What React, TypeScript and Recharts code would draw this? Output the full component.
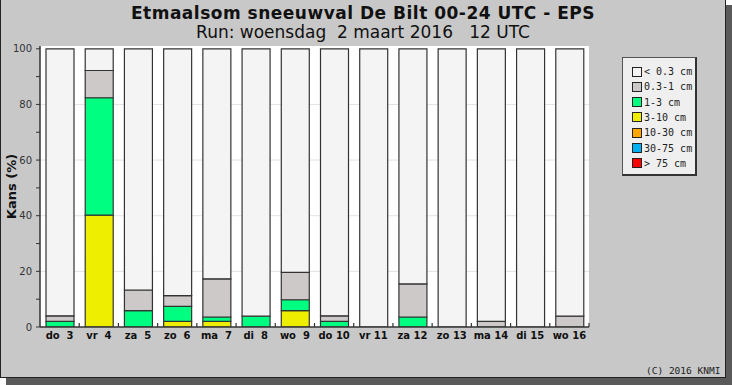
import React from 'react';
import { BarChart, Bar, XAxis, YAxis, CartesianGrid } from 'recharts';

const days = ['do  3', 'vr  4', 'za  5', 'zo  6', 'ma  7', 'di  8', 'wo  9', 'do 10', 'vr 11', 'za 12', 'zo 13', 'ma 14', 'di 15', 'wo 16'];

// kans (%) per klasse, van onder naar boven gestapeld
const snow3to10 = [0, 40.2, 0, 2, 2, 0, 5.9, 0, 0, 0, 0, 0, 0, 0];
const snow1to3 = [2, 42.2, 5.9, 5.4, 1.6, 3.9, 3.9, 2, 0, 3.6, 0, 0, 0, 0];
const snow03to1 = [2, 9.8, 7.4, 3.9, 13.7, 0, 9.8, 2, 0, 11.9, 0, 2, 0, 3.9];
const snowLt03 = [96, 7.8, 86.7, 88.7, 82.7, 96.1, 80.4, 96, 100, 84.5, 100, 98, 100, 96.1];

const legendLabels = ['< 0.3 cm', '0.3-1 cm', '1-3 cm', '3-10 cm', '10-30 cm', '30-75 cm', '> 75 cm'];
const legendColors = ['#f4f4f4', '#cdc9c9', '#00ff80', '#eeee00', '#ffa500', '#00b0f0', '#ff0000'];

const yTicks = [0, 10, 20, 30, 40, 50, 60, 70, 80, 90, 100];

const data = days.map((day, i) => ({
  day,
  c3: snow3to10[i],
  c2: snow1to3[i],
  c1: snow03to1[i],
  c0: snowLt03[i],
}));

const W = 725;
const H = 377;
const M = { top: 46, right: 136, bottom: 0, left: 0 };
const Y_W = 40;
const X_H = 50;
const PLOT_BOTTOM = H - X_H;
const BAND = (W - M.right - Y_W) / days.length;

const DayTick = ({ x, payload }: any) => (
  <g>
    <line x1={x + BAND / 2} x2={x + BAND / 2} y1={PLOT_BOTTOM} y2={PLOT_BOTTOM - 4} stroke="#333" strokeWidth={1.2} />
    <text x={x} y={PLOT_BOTTOM + 12} textAnchor="middle" fontSize={10} fontWeight="bold" fill="#111"
      fontFamily="DejaVu Sans" style={{ whiteSpace: 'pre' }}>
      {payload.value}
    </text>
  </g>
);

const KansLabel = ({ viewBox }: any) => {
  const cx = viewBox.x + 11;
  const cy = viewBox.y + viewBox.height / 2;
  return (
    <text x={cx} y={cy} transform={`rotate(-90 ${cx} ${cy})`} textAnchor="middle" dominantBaseline="central"
      fontSize={13} fontWeight="bold" fill="#111" fontFamily="DejaVu Sans">
      Kans (%)
    </text>
  );
};

const SnowLegend = () => (
  <div style={{
    position: 'absolute', left: 622, top: 57, width: 72, height: 116, background: '#efefef',
    borderTop: '1px solid #555', borderLeft: '1px solid #555', borderRight: '2px solid #333', borderBottom: '2px solid #333',
  }}>
    {legendLabels.map((lab, i) => (
      <div key={lab} style={{ position: 'absolute', left: 9, top: 8 + i * 15.3, height: 11, display: 'flex', alignItems: 'center' }}>
        <span style={{ width: 8, height: 8, background: legendColors[i], border: '1px solid #222', display: 'inline-block' }} />
        <span style={{ marginLeft: 2, fontFamily: 'DejaVu Sans Mono', fontSize: 10, color: '#222', whiteSpace: 'pre' }}>{lab}</span>
      </div>
    ))}
  </div>
);

export default function App() {
  return (
    <div style={{ position: 'fixed', left: 0, top: 0, width: 732, height: 385, background: '#fff' }}>
      <div style={{ position: 'absolute', left: 6, top: 5, width: 726, height: 380, background: '#5a5a5a' }} />
      <div style={{
        position: 'absolute', left: 0, top: 0, width: 726, height: 378, boxSizing: 'border-box', background: '#c8c8c8',
        borderLeft: '1px solid #222', borderRight: '1px solid #222', borderBottom: '1px solid #222',
      }} />
      <div style={{ position: 'absolute', left: 0, top: 3, width: 726, lineHeight: '20px', textAlign: 'center', fontFamily: 'DejaVu Sans', fontWeight: 'bold', fontSize: 17, letterSpacing: 0.5, color: '#111', whiteSpace: 'pre' }}>
        Etmaalsom sneeuwval De Bilt 00-24 UTC - EPS
      </div>
      <div style={{ position: 'absolute', left: 0, top: 23, width: 726, lineHeight: '18px', textAlign: 'center', fontFamily: 'DejaVu Sans', fontSize: 17, color: '#111', whiteSpace: 'pre' }}>
        Run: woensdag  2 maart 2016   12 UTC
      </div>
      <div style={{ position: 'absolute', left: 0, top: 0 }}>
        <BarChart width={W} height={H} data={data} margin={M} barSize={28}>
          <CartesianGrid vertical={false} horizontalValues={[20, 40, 60, 80]} stroke="#e2e2e2" fill="#fff" fillOpacity={1} />
          <XAxis dataKey="day" height={X_H} interval={0} tickLine={false} axisLine={{ stroke: '#333', strokeWidth: 1.5 }} tick={<DayTick />} />
          <YAxis width={Y_W} domain={[0, 101]} ticks={yTicks} interval={0} allowDataOverflow
            tickFormatter={(v: number) => (v % 20 === 0 ? String(v) : '')}
            tickSize={4} tickMargin={4} tickLine={{ stroke: '#333' }} axisLine={{ stroke: '#333', strokeWidth: 1.5 }}
            tick={{ fontSize: 10, fill: '#333', fontFamily: 'DejaVu Sans' }} label={<KansLabel />} />
          <Bar dataKey="c3" stackId="a" fill={legendColors[3]} stroke="#333" strokeWidth={1.2} isAnimationActive={false} />
          <Bar dataKey="c2" stackId="a" fill={legendColors[2]} stroke="#333" strokeWidth={1.2} isAnimationActive={false} />
          <Bar dataKey="c1" stackId="a" fill={legendColors[1]} stroke="#333" strokeWidth={1.2} isAnimationActive={false} />
          <Bar dataKey="c0" stackId="a" fill={legendColors[0]} stroke="#333" strokeWidth={1.2} isAnimationActive={false} />
        </BarChart>
      </div>
      <SnowLegend />
      <div style={{ position: 'absolute', left: 646, top: 365, fontFamily: 'DejaVu Sans Mono', fontSize: 9.5, color: '#222', whiteSpace: 'pre' }}>
        (C) 2016 KNMI
      </div>
    </div>
  );
}
